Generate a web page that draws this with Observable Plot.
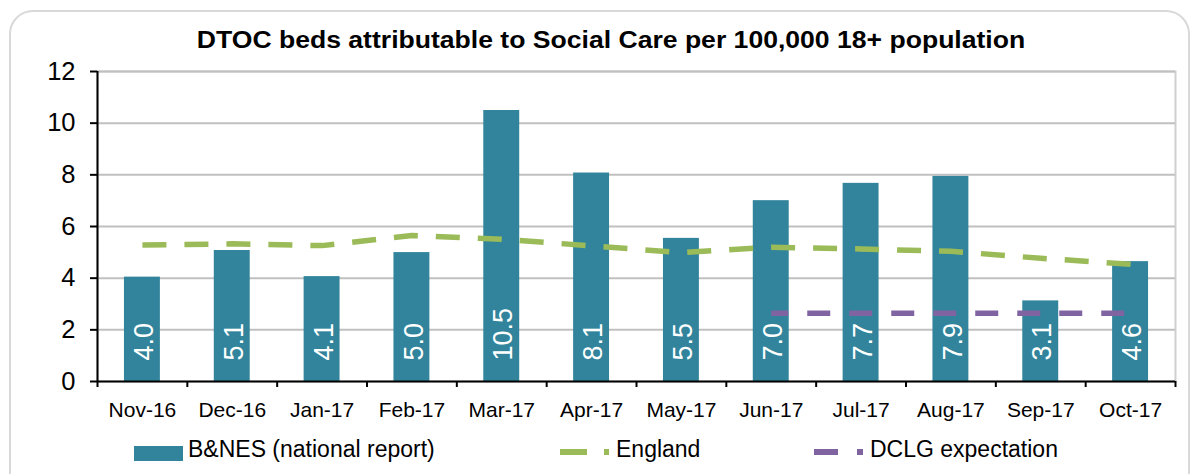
<!DOCTYPE html>
<html>
<head>
<meta charset="utf-8">
<script src="https://cdn.jsdelivr.net/npm/d3@7"></script>
<script src="https://cdn.jsdelivr.net/npm/@observablehq/plot@0.6"></script>
<style>
  html, body { margin: 0; padding: 0; background: #fff; }
  body { font-family: "Liberation Sans", Arial, sans-serif; }
  #wrap { position: relative; width: 1200px; height: 474px; overflow: hidden; }
  #border { position: absolute; left: 9px; top: 10px; width: 1181px; height: 490px;
            border: 2px solid #d9d9d9; border-radius: 24px; box-sizing: border-box; }
  #title { position: absolute; left: 0; width: 1222px; top: 28.7px; text-align: center;
           font-size: 23px; line-height: 23px; font-weight: bold; color: #000;
           transform: scaleX(1.155); transform-origin: 611px 0; white-space: nowrap; }
  #chart { position: absolute; left: 0; top: 0; }
  .lg { position: absolute; font-size: 23px; line-height: 23px; top: 437.7px; color: #000; white-space: nowrap; }
  .sw { position: absolute; }
</style>
</head>
<body>
<div id="wrap">
  <div id="border"></div>
  <div id="chart"></div>
  <div id="title">DTOC beds attributable to Social Care per 100,000 18+ population</div>
  <div class="sw" style="left:134px; top:446px; width:49px; height:15px; background:#31849b;"></div>
  <div class="lg" style="left:188px;">B&amp;NES (national report)</div>
  <div class="sw" style="left:560px; top:449px; width:27px; height:6px; background:#9bbb59;"></div>
  <div class="sw" style="left:604px; top:449px; width:5px; height:6px; background:#9bbb59;"></div>
  <div class="lg" style="left:616px;">England</div>
  <div class="sw" style="left:814px; top:449px; width:24px; height:6px; background:#8064a2;"></div>
  <div class="sw" style="left:857px; top:449px; width:6px; height:6px; background:#8064a2;"></div>
  <div class="lg" style="left:870px;">DCLG expectation</div>
</div>
<script>
const months = ["Nov-16","Dec-16","Jan-17","Feb-17","Mar-17","Apr-17","May-17","Jun-17","Jul-17","Aug-17","Sep-17","Oct-17"];
const bnes = [4.04, 5.07, 4.06, 4.99, 10.49, 8.07, 5.54, 7.0, 7.67, 7.94, 3.12, 4.64];
const bnesLabels = ["4.0","5.1","4.1","5.0","10.5","8.1","5.5","7.0","7.7","7.9","3.1","4.6"];
const england = [5.28, 5.33, 5.26, 5.65, 5.51, 5.25, 4.99, 5.2, 5.13, 5.04, 4.77, 4.54];
const dclgMonths = ["Jun-17","Jul-17","Aug-17","Sep-17","Oct-17"];
const dclg = [2.64, 2.64, 2.64, 2.64, 2.64];
const yTicks = [0, 2, 4, 6, 8, 10, 12];

const bars = months.map((m, i) => ({month: m, value: bnes[i], label: bnesLabels[i]}));
const engData = months.map((m, i) => ({month: m, value: england[i]}));
const dclgData = dclgMonths.map((m, i) => ({month: m, value: dclg[i]}));

const half = (1200 - 97 - 25) / months.length / 2;

const chart = Plot.plot({
  width: 1200,
  height: 474,
  marginLeft: 97,
  marginRight: 25,
  marginTop: 71,
  marginBottom: 93,
  style: {fontFamily: "'Liberation Sans', Arial, sans-serif", color: "#000", background: "transparent", overflow: "visible"},
  x: {domain: months, paddingInner: 0.6, paddingOuter: 0.3, round: false, axis: null, label: null},
  y: {domain: [0, 12], axis: null, label: null},
  marks: [
    Plot.frame({stroke: "#cfcfcf", strokeWidth: 2}),
    Plot.ruleY(yTicks.slice(1), {stroke: "#c0c0c0", strokeWidth: 2}),
    Plot.barY(bars, {x: "month", y: "value", fill: "#31849b"}),
    Plot.text(bars, {x: "month", y: () => 0, text: "label", rotate: -90, textAnchor: "start",
                     lineAnchor: "middle", dy: -21, dx: 2, fill: "#fff", fontSize: 27}),
    Plot.line(engData, {x: "month", y: "value", stroke: "#9bbb59", strokeWidth: 5.5,
                        strokeDasharray: "24,18", strokeLinecap: "butt"}),
    Plot.line(dclgData, {x: "month", y: "value", stroke: "#8064a2", strokeWidth: 5.5,
                         strokeDasharray: "23,19", strokeDashoffset: 6, strokeLinecap: "butt"}),
    Plot.ruleY([0], {stroke: "#000", strokeWidth: 2}),
    Plot.ruleX([months[0]], {dx: -half, stroke: "#000", strokeWidth: 2}),
    Plot.axisY({ticks: yTicks, tickSize: 7, tickPadding: 15, fontSize: 25.5, strokeWidth: 2, label: null}),
    Plot.axisX({tickSize: 0, tickPadding: 21, fontSize: 21, label: null}),
    Plot.axisX({tickSize: 6, tickFormat: () => "", dx: -half, strokeWidth: 2, label: null}),
    Plot.axisX([months[months.length - 1]], {tickSize: 6, tickFormat: () => "", dx: half, strokeWidth: 2, label: null})
  ]
});
document.getElementById("chart").appendChild(chart);
</script>
</body>
</html>
